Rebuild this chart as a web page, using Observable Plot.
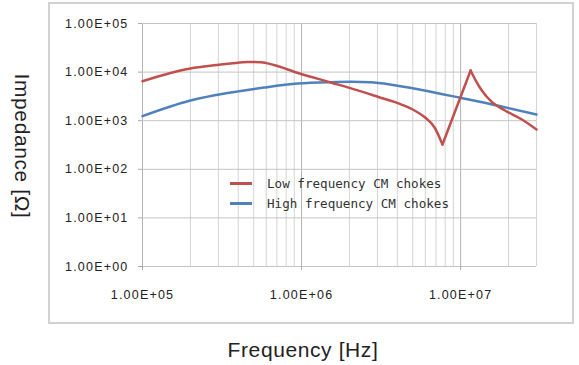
<!DOCTYPE html>
<html>
<head>
<meta charset="utf-8">
<script src="https://cdn.jsdelivr.net/npm/d3@7"></script>
<script src="https://cdn.jsdelivr.net/npm/@observablehq/plot@0.6"></script>
<style>
  html, body { margin: 0; padding: 0; background: #fff; }
  #wrap { position: relative; width: 579px; height: 365px; overflow: hidden; }
  #box { position: absolute; left: 48px; top: 2px; width: 522px; height: 318px; border: 2px solid #d2d2d2; box-sizing: content-box; }
  #chart { position: absolute; left: 0; top: 0; }
  .lab { position: absolute; font-family: "Liberation Sans", Arial, sans-serif; font-size: 21px; color: #222; letter-spacing: 0.6px; white-space: nowrap; }
  #ylab { left: 22px; top: 146px; transform: translate(-50%, -50%) rotate(90deg); }
  #xlab { left: 303px; top: 350px; transform: translate(-50%, -50%); }
  #legend { position: absolute; left: 230px; top: 173px; font-family: "DejaVu Sans Mono", monospace; font-size: 12.6px; color: #333; }
  .row { display: flex; align-items: center; height: 20px; }
  .sw { width: 22px; height: 3px; margin-right: 15px; }
  svg text { letter-spacing: 1.2px; }
</style>
</head>
<body>
<div id="wrap">
  <div id="box"></div>
  <div id="chart"></div>
  <div class="lab" id="ylab">Impedance [Ω]</div>
  <div class="lab" id="xlab">Frequency [Hz]</div>
  <div id="legend"></div>
</div>
<script>
const seriesNames = ["Low frequency CM chokes", "High frequency CM chokes"];
const seriesColors = ["#c0504d", "#4f81bd"];

const freqLow = [1.0e5, 1.5e5, 2.0e5, 2.8e5, 3.59e5, 4.59e5, 5.55e5, 6.7e5, 9.5e5, 1.53e6, 2.2e6, 3.04e6, 4.25e6, 5.13e6, 5.93e6, 6.86e6, 7.69e6, 1.156e7, 1.245e7, 1.36e7, 1.57e7, 1.9e7, 2.43e7, 3.0e7];
const zLow = [6.5e3, 9.6e3, 1.19e4, 1.38e4, 1.5e4, 1.61e4, 1.6e4, 1.4e4, 9.6e3, 6.1e3, 4.3e3, 3.07e3, 2.15e3, 1.62e3, 1.19e3, 724, 324, 1.08e4, 6.7e3, 4.18e3, 2.43e3, 1.62e3, 1.06e3, 659];

const freqHigh = [1.0e5, 2.0e5, 3.59e5, 5.8e5, 9.5e5, 1.53e6, 2.05e6, 2.7e6, 3.67e6, 5.68e6, 1.01e7, 1.76e7, 3.0e7];
const zHigh = [1.24e3, 2.6e3, 3.8e3, 4.8e3, 5.8e3, 6.2e3, 6.3e3, 6.15e3, 5.5e3, 4.29e3, 2.93e3, 2.0e3, 1.34e3];

const yTicks = [1, 10, 100, 1e3, 1e4, 1e5];
const yTickLabels = ["1.00E+00", "1.00E+01", "1.00E+02", "1.00E+03", "1.00E+04", "1.00E+05"];
const xTicks = [1e5, 1e6, 1e7];
const xTickLabels = ["1.00E+05", "1.00E+06", "1.00E+07"];
const xMinorGrid = [2e5, 3e5, 4e5, 5e5, 6e5, 7e5, 8e5, 9e5, 2e6, 3e6, 4e6, 5e6, 6e6, 7e6, 8e6, 9e6, 2e7, 3e7];

const lowRows = freqLow.map((f, i) => ({f, z: zLow[i], s: seriesNames[0]}));
const highRows = freqHigh.map((f, i) => ({f, z: zHigh[i], s: seriesNames[1]}));
// split the resonance (sharp dip and sharp peak) so the smooth parts stay smooth
const iDip = d3.minIndex(zLow);
const iPeak = iDip + d3.maxIndex(zLow.slice(iDip));
const lowA = lowRows.slice(0, iDip + 1);
const lowB = lowRows.slice(iDip, iPeak + 1);
const lowC = lowRows.slice(iPeak);

const lineOpts = (curve) => ({ x: "f", y: "z", stroke: "s", strokeWidth: 2.5, curve, strokeLinejoin: "round", strokeLinecap: "round" });

const chart = Plot.plot({
  width: 579,
  height: 365,
  marginLeft: 142,
  marginRight: 43,
  marginTop: 23,
  marginBottom: 99,
  style: { fontFamily: "'Liberation Sans', Arial, sans-serif", fontSize: "12.5px", color: "#222", background: "transparent" },
  x: { type: "log", domain: [1e5, 3e7] },
  y: { type: "log", domain: [1, 1e5] },
  color: { domain: seriesNames, range: seriesColors },
  marks: [
    Plot.ruleX(xMinorGrid, { stroke: "#d4d4d4", strokeWidth: 1 }),
    Plot.ruleX(xTicks, { stroke: "#b4b4b4", strokeWidth: 1 }),
    Plot.ruleY(yTicks, { stroke: "#c4c4c4", strokeWidth: 1 }),
    Plot.axisY({ ticks: yTicks, tickFormat: (d) => yTickLabels[yTicks.indexOf(d)], tickSize: 4, tickPadding: 10, stroke: "#aaa", label: null, fill: "#222", fontSize: 12.5 }),
    Plot.axisX({ ticks: xTicks, tickFormat: (d) => xTickLabels[xTicks.indexOf(d)], tickSize: 4, tickPadding: 20, stroke: "#aaa", label: null, fill: "#222", fontSize: 12.5 }),
    Plot.line(highRows, lineOpts("monotone-x")),
    Plot.line(lowA, lineOpts("monotone-x")),
    Plot.line(lowB, lineOpts("linear")),
    Plot.line(lowC, lineOpts("monotone-x"))
  ]
});
document.getElementById("chart").appendChild(chart);

const leg = document.getElementById("legend");
seriesNames.forEach((n, i) => {
  const r = document.createElement("div");
  r.className = "row";
  const sw = document.createElement("div");
  sw.className = "sw";
  sw.style.background = seriesColors[i];
  const t = document.createElement("span");
  t.textContent = n;
  r.appendChild(sw); r.appendChild(t);
  leg.appendChild(r);
});
</script>
</body>
</html>
